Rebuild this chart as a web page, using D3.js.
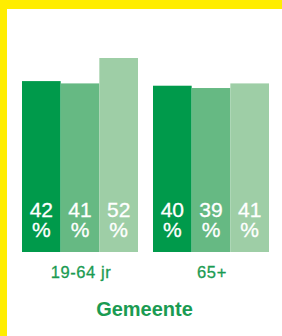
<!DOCTYPE html>
<html>
<head>
<meta charset="utf-8">
<script src="https://cdn.jsdelivr.net/npm/d3@7"></script>
<style>
  body { margin: 0; background: #fff; }
  svg { display: block; }
</style>
</head>
<body>
<div id="vis"></div>
<script>
// data
var groups = ["19-64 jr", "65+"];
var series = ["s1", "s2", "s3"];
var values = [
  [42, 41, 52],
  [40, 39, 41]
];
var colors = ["#009a4b", "#66b983", "#9ecea6"];
var axisTitle = "Gemeente";

var width = 282, height = 336;

var svg = d3.select("#vis").append("svg")
  .attr("width", width)
  .attr("height", height);

// yellow frame on top and left
svg.append("rect").attr("x", 0).attr("y", 0).attr("width", width).attr("height", 9).attr("fill", "#ffed00");
svg.append("rect").attr("x", 0).attr("y", 0).attr("width", 7).attr("height", height).attr("fill", "#ffed00");

var x0 = d3.scaleBand()
  .domain(groups)
  .range([22, 269])
  .paddingInner(15 / 131)
  .paddingOuter(0);

var x1 = d3.scaleBand()
  .domain(series)
  .range([0, x0.bandwidth()]);

// axis does not start at zero in the original
var y = d3.scaleLinear()
  .domain([-32, 52])
  .range([252, 58]);

var g = svg.selectAll("g.grp")
  .data(values)
  .enter().append("g")
  .attr("class", "grp")
  .attr("transform", function(d, i) { return "translate(" + x0(groups[i]) + ",0)"; });

g.selectAll("rect")
  .data(function(d) { return d; })
  .enter().append("rect")
  .attr("x", function(d, i) { return x1(series[i]); })
  .attr("y", function(d) { return y(d); })
  .attr("width", x1.bandwidth())
  .attr("height", function(d) { return y(-32) - y(d); })
  .attr("fill", function(d, i) { return colors[i]; });

var lbl = g.selectAll("text.val")
  .data(function(d) { return d; })
  .enter().append("text")
  .attr("class", "val")
  .attr("text-anchor", "middle")
  .attr("fill", "#fff")
  .attr("stroke", "#fff")
  .attr("stroke-width", 0.3)
  .style("font-family", "'Liberation Sans', Arial, sans-serif")
  .style("font-size", "21px");

lbl.append("tspan")
  .attr("x", function(d, i) { return x1(series[i]) + x1.bandwidth() / 2; })
  .attr("y", 216.5)
  .text(function(d) { return d; });
lbl.append("tspan")
  .attr("x", function(d, i) { return x1(series[i]) + x1.bandwidth() / 2; })
  .attr("y", 236.5)
  .text("%");

// category labels
svg.selectAll("text.cat")
  .data(groups)
  .enter().append("text")
  .attr("class", "cat")
  .attr("x", function(d) { return x0(d) + x0.bandwidth() / 2 + 1; })
  .attr("y", 277.5)
  .attr("text-anchor", "middle")
  .attr("fill", "#1a9b52")
  .attr("stroke", "#1a9b52")
  .attr("stroke-width", 0.3)
  .style("font-family", "'Liberation Sans', Arial, sans-serif")
  .style("font-size", "16.5px")
  .style("letter-spacing", "0.6px")
  .text(function(d) { return d; });

svg.append("text")
  .attr("x", 144.5)
  .attr("y", 316)
  .attr("text-anchor", "middle")
  .attr("fill", "#1a9b52")
  .style("font-family", "'Liberation Sans', Arial, sans-serif")
  .style("font-size", "20px")
  .style("font-weight", "bold")
  .text(axisTitle);
</script>
</body>
</html>
